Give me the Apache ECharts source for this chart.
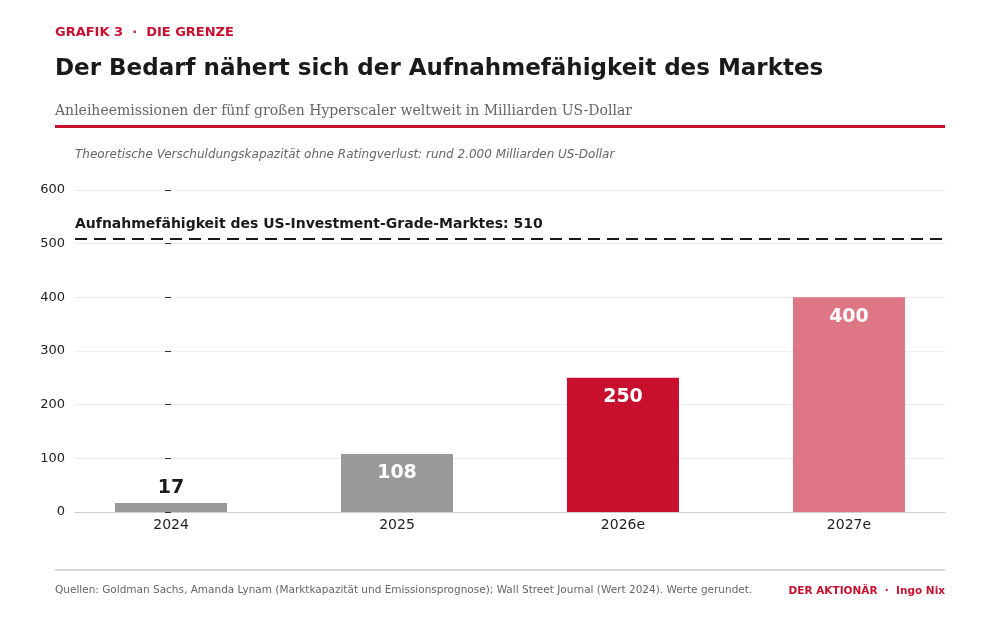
<!DOCTYPE html>
<html><head><meta charset="utf-8">
<script src="https://cdn.jsdelivr.net/npm/echarts@6/dist/echarts.min.js"></script>
<style>html,body{margin:0;background:#fff}#c{width:1000px;height:618px}</style>
</head><body><div id="c"></div>
<script>
var categories = ['2024', '2025', '2026e', '2027e'];
var values = [17, 108, 250, 400];
var barColors = ['#999999', '#999999', '#c8102e', 'rgba(214,80,99,0.78)'];
var capacity = 510;
var yTicks = [0, 100, 200, 300, 400, 500, 600];

var chart = echarts.init(document.getElementById('c'));
var font = 'DejaVu Sans';
var data = values.map(function (v, i) {
    return {
        value: [i, v],
        itemStyle: { color: barColors[i] },
        label: i === 0
            ? { position: 'top', color: '#1a1a1a' }
            : { position: 'insideTop', color: '#ffffff', distance: 10 }
    };
});
var option = {
    animation: false,
    textStyle: { fontFamily: font },
    grid: { left: 75, right: 55, top: 190, bottom: 106 },
    xAxis: {
        type: 'value', min: -0.425, max: 3.425,
        splitLine: { show: false },
        axisLine: { show: true, lineStyle: { color: '#cccccc' } },
        axisTick: { show: false },
        axisLabel: {
            customValues: [0, 1, 2, 3], fontSize: 14, color: '#222', margin: 6,
            formatter: function (v) { return categories[Math.round(v)]; }
        }
    },
    yAxis: {
        type: 'value', min: 0, max: 600, interval: 100,
        axisLine: { show: false },
        axisTick: { show: true, length: 6, lineStyle: { color: '#333' } },
        axisLabel: { color: '#222', fontSize: 13, margin: 10 },
        splitLine: { lineStyle: { color: '#ececec' } }
    },
    series: [{
        type: 'bar', data: data, barWidth: 112,
        label: { show: true, fontSize: 19, fontWeight: 'bold', formatter: function (p) { return p.value[1]; } },
        markLine: {
            silent: true, symbol: 'none',
            lineStyle: { color: '#1a1a1a', type: [12, 7], width: 2 },
            label: {
                position: 'insideStartTop', formatter: 'Aufnahmefähigkeit des US-Investment-Grade-Marktes: ' + capacity,
                color: '#1a1a1a', fontSize: 14, fontWeight: 'bold', distance: [0, 7]
            },
            data: [{ yAxis: capacity }]
        }
    }],
    graphic: [
        { type: 'text', left: 55, top: 26, style: { text: 'GRAFIK 3  ·  DIE GRENZE', fill: '#c8102e', font: 'bold 13px DejaVu Sans' } },
        { type: 'text', left: 55, top: 58, style: { text: 'Der Bedarf nähert sich der Aufnahmefähigkeit des Marktes', fill: '#1a1a1a', font: 'bold 23px DejaVu Sans' } },
        { type: 'text', left: 55, top: 104, style: { text: 'Anleiheemissionen der fünf großen Hyperscaler weltweit in Milliarden US-Dollar', fill: '#666', font: '14px "DejaVu Serif"' } },
        { type: 'rect', shape: { x: 55, y: 125, width: 890, height: 3 }, style: { fill: '#c8102e' } },
        { type: 'text', left: 75, top: 149, style: { text: 'Theoretische Verschuldungskapazität ohne Ratingverlust: rund 2.000 Milliarden US-Dollar', fill: '#666', font: 'italic 12px DejaVu Sans' } },
        { type: 'rect', shape: { x: 55, y: 569, width: 890, height: 2 }, style: { fill: '#d6d6d6' } },
        { type: 'text', left: 55, top: 585, style: { text: 'Quellen: Goldman Sachs, Amanda Lynam (Marktkapazität und Emissionsprognose); Wall Street Journal (Wert 2024). Werte gerundet.', fill: '#666', font: '10.5px DejaVu Sans' } },
        { type: 'text', right: 55, top: 586, style: { text: 'DER AKTIONÄR  ·  Ingo Nix', fill: '#c8102e', font: 'bold 10.5px DejaVu Sans' } }
    ]
};
chart.setOption(option);
</script></body></html>
